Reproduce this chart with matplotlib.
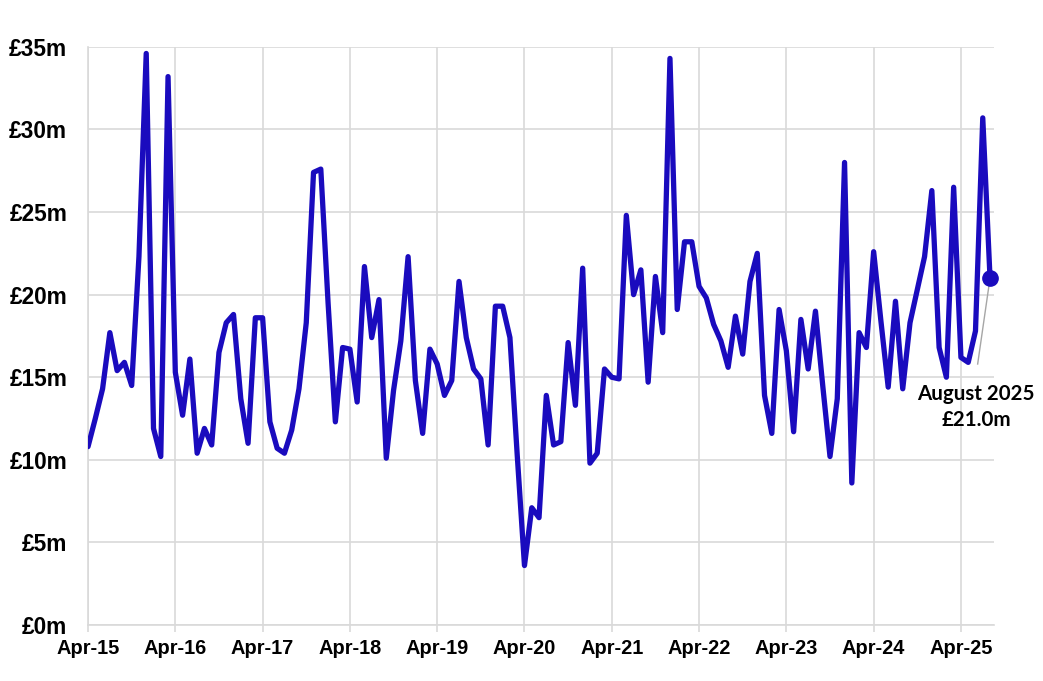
import numpy as np
import matplotlib.pyplot as plt

# monthly values, Apr-15 .. Aug-25 (£m)
values = [
    10.8, 12.5, 14.3, 17.7, 15.4, 15.9, 14.5, 22.3, 34.6, 11.9, 10.2, 33.2,
    15.3, 12.7, 16.1, 10.4, 11.9, 10.9, 16.5, 18.3, 18.8, 13.7, 11.0, 18.6,
    18.6, 12.3, 10.7, 10.4, 11.8, 14.3, 18.3, 27.4, 27.6, 19.5, 12.3, 16.8,
    16.7, 13.5, 21.7, 17.4, 19.7, 10.1, 14.2, 17.2, 22.3, 14.8, 11.6, 16.7,
    15.8, 13.9, 14.8, 20.8, 17.4, 15.5, 14.9, 10.9, 19.3, 19.3, 17.4, 10.3,
    3.6, 7.1, 6.5, 13.9, 10.9, 11.1, 17.1, 13.3, 21.6, 9.8, 10.4, 15.5,
    15.0, 14.9, 24.8, 20.0, 21.5, 14.7, 21.1, 17.7, 34.3, 19.1, 23.2, 23.2,
    20.5, 19.8, 18.2, 17.2, 15.6, 18.7, 16.4, 20.8, 22.5, 13.9, 11.6, 19.1,
    16.6, 11.7, 18.5, 15.5, 19.0, 14.5, 10.2, 13.7, 28.0, 8.6, 17.7, 16.8,
    22.6, 18.4, 14.4, 19.6, 14.3, 18.3, 20.3, 22.3, 26.3, 16.8, 15.0, 26.5,
    16.2, 15.9, 17.8, 30.7, 21.0,
]
xtick_labels = ['Apr-15', 'Apr-16', 'Apr-17', 'Apr-18', 'Apr-19', 'Apr-20',
                'Apr-21', 'Apr-22', 'Apr-23', 'Apr-24', 'Apr-25']
ytick_vals = [0, 5, 10, 15, 20, 25, 30, 35]

line_col = '#1A0BBE'
grid_col = '#D9D9D9'

x = np.arange(len(values))

fig = plt.figure(figsize=(10.43, 6.81), dpi=100)
ax = fig.add_axes([0.0844, 0.0822, 0.869, 0.849])

ax.plot(x, values, color=line_col, lw=3.8, solid_joinstyle='round',
        solid_capstyle='round', zorder=3)
ax.plot(x[-1], values[-1], 'o', color=line_col, ms=11, clip_on=False, zorder=4)

ax.set_xlim(0, 124.6)
ax.set_ylim(0, 35)
ax.set_xticks(x[::12])
ax.set_xticklabels(xtick_labels, fontsize=14.4, fontweight='bold',
                   family='Liberation Sans')
ax.set_yticks(ytick_vals)
ax.set_yticklabels(['£%dm' % v for v in ytick_vals], fontsize=16.3,
                   fontweight='bold', family='Liberation Sans')
ax.grid(True, color=grid_col, lw=1.2)
ax.set_axisbelow(True)
for s in ['top', 'right']:
    ax.spines[s].set_visible(False)
for s in ['left', 'bottom']:
    ax.spines[s].set_color(grid_col)
    ax.spines[s].set_linewidth(1.2)
ax.tick_params(axis='x', length=5, color=grid_col, width=1.2, pad=5)
ax.tick_params(axis='y', length=0, pad=15)

# label for the latest month
ax.plot([122.3, 124], [15.8, values[-1]], color='#A6A6A6', lw=1, zorder=2)
ax.text(122.1, 13.2, 'August 2025\n£21.0m', ha='center', va='center',
        fontsize=14.8, fontweight='bold', family='Lato', linespacing=1.4)

fig.savefig('out.png', dpi=100)
